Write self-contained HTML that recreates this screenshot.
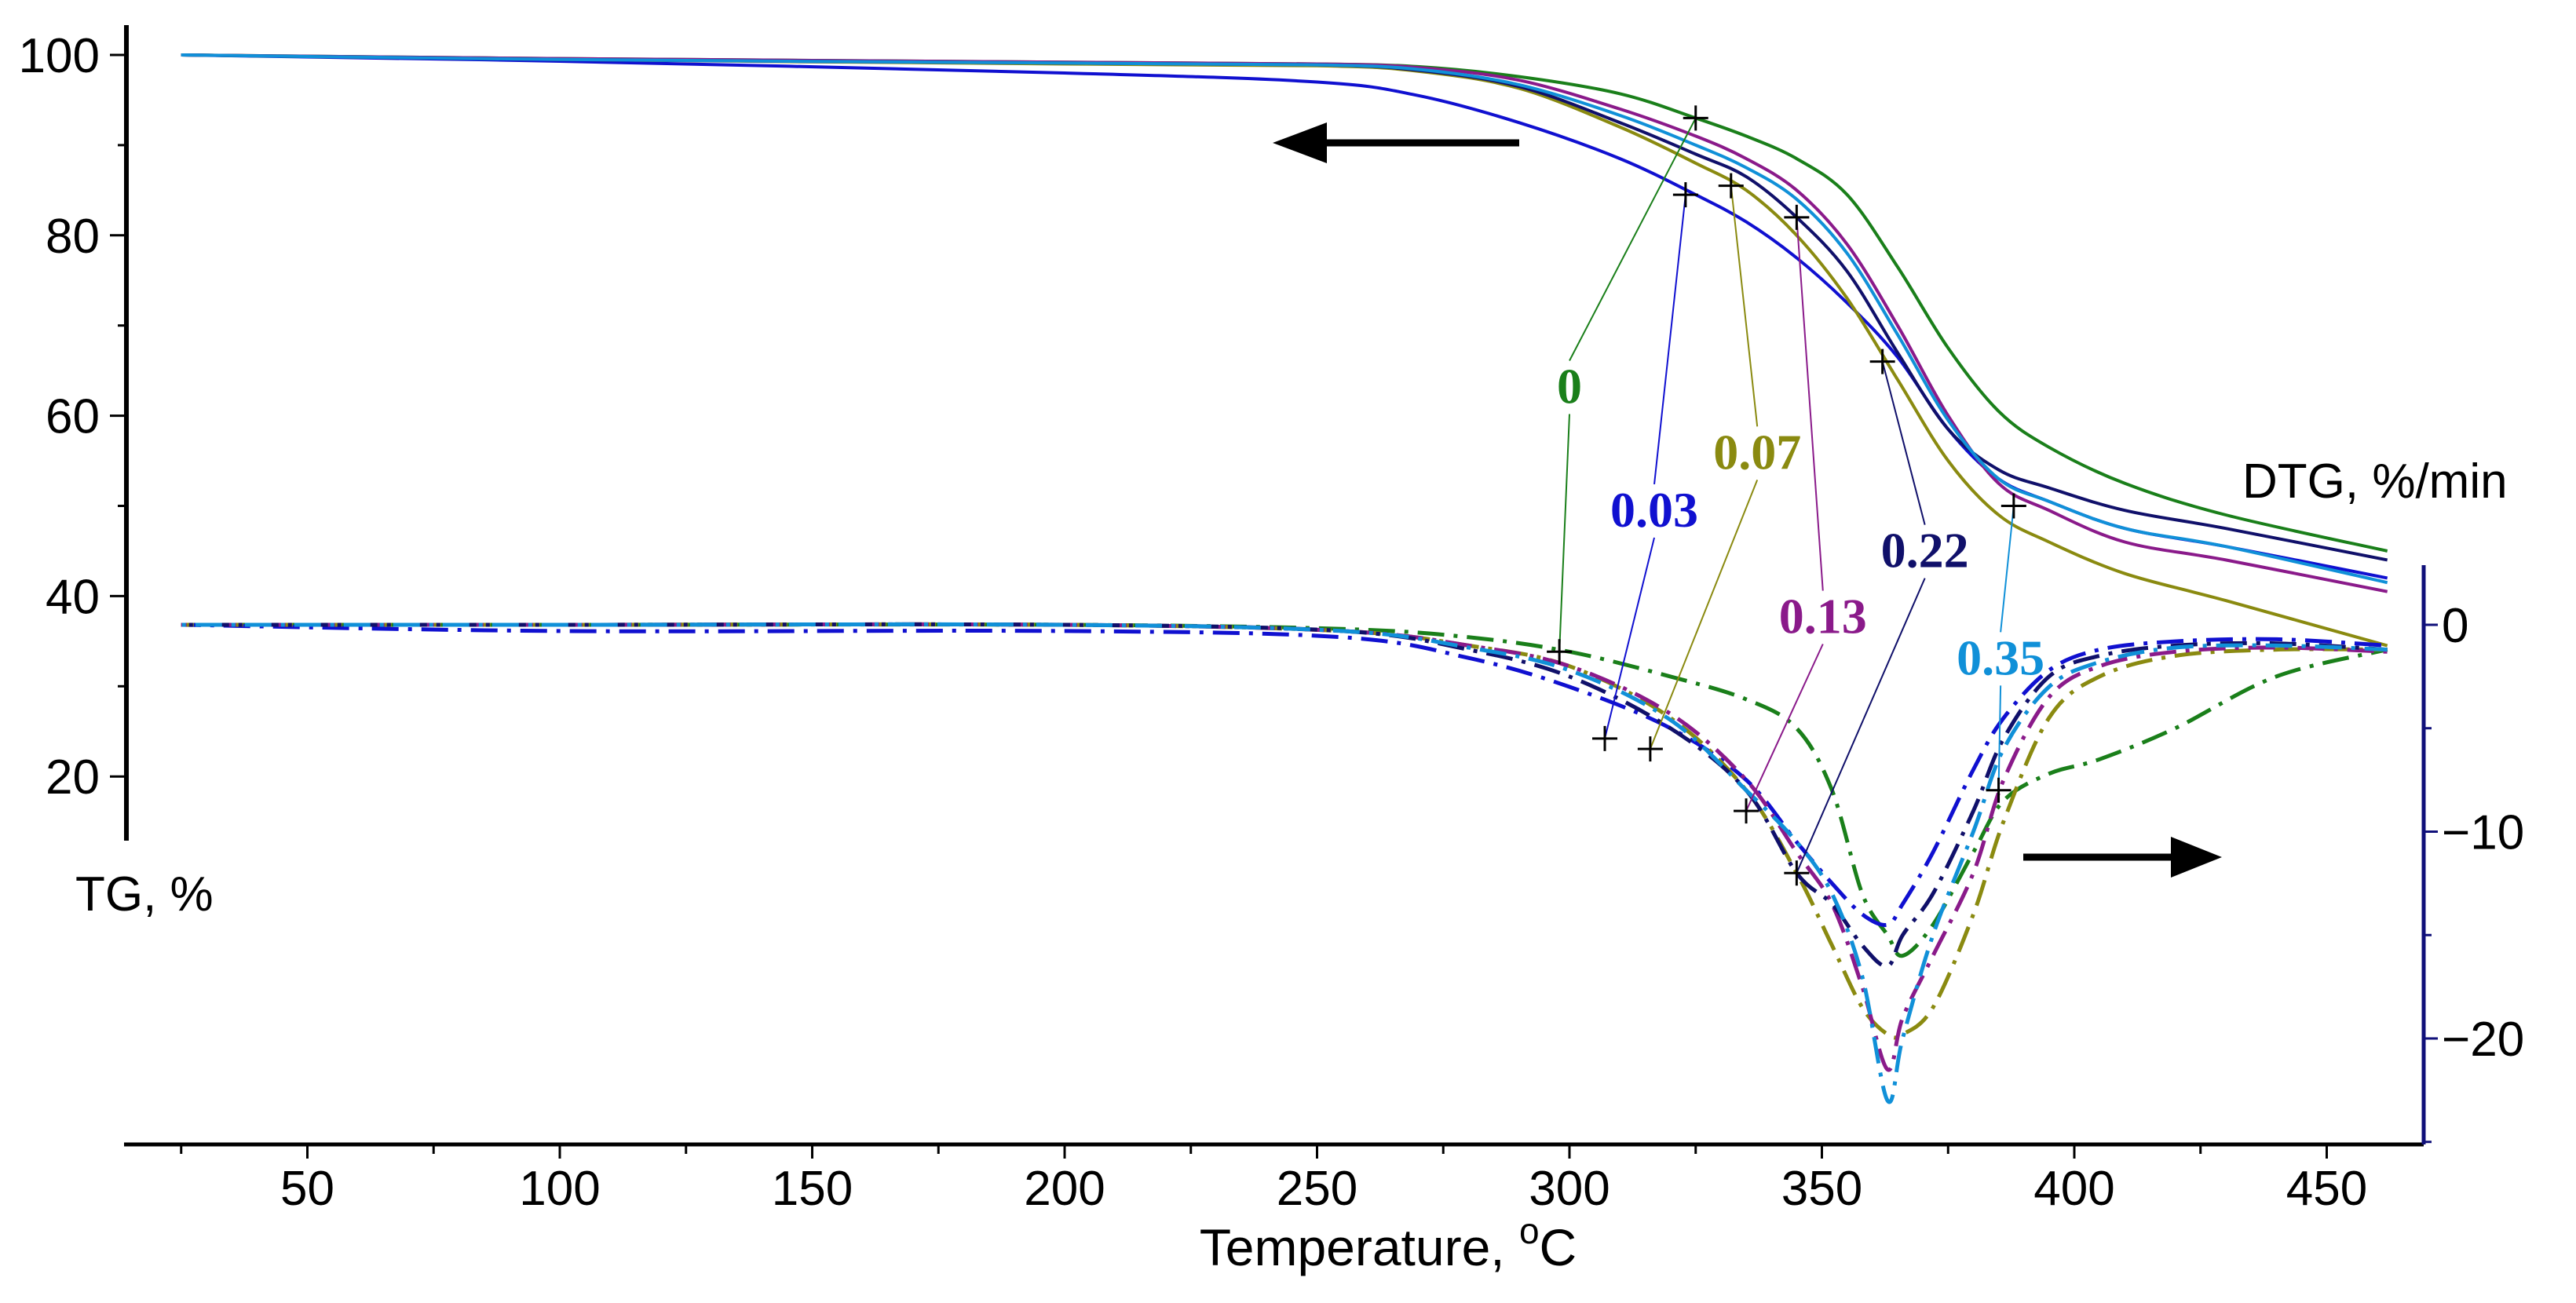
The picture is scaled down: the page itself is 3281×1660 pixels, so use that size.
<!DOCTYPE html>
<html><head><meta charset="utf-8"><style>
html,body{margin:0;padding:0;background:#fff;}
svg{display:block;}
text{font-family:"Liberation Sans",sans-serif;}
.lbl{font-family:"Liberation Serif",serif;font-weight:bold;font-size:64px;}
</style></head><body>
<svg id="chart" width="3281" height="1660" viewBox="0 0 3281 1660" xmlns="http://www.w3.org/2000/svg">
<g id="axes"></g>
<g id="tg"></g>
<g id="dtg"></g>
<g id="ann"></g>
</svg>
<script>
const sampleNames = ["0","0.03","0.07","0.13","0.22","0.35"];
const sampleColors = ["#1a7f1a","#1010d0","#8a8a10","#8a1a8a","#10106a","#1090d8"];
const tgTemps = [25,100,200,250,270,290,310,325,335,345,355,365,375,385,395,410,430,462];
const tg0 = [100,99.6,99.2,99,98.7,97.6,95.7,93,91,88.5,84.5,76.5,67.5,60.5,56.5,52.5,49,45];
const tg003 = [100,99.3,98,97,95.5,92.5,88.5,84.5,81.5,77.5,72.5,66.5,58.5,53,50.5,47.5,45.5,42];
const tg007 = [100,99.5,99,98.8,98.2,96.3,92,88,85,80,73,64,55,49,46,42.5,39.5,34.5];
const tg013 = [100,99.6,99.2,99,98.6,97.2,94,91,88.5,85,79,70,60,52.5,49.5,46,44,40.5];
const tg022 = [100,99.5,99.1,98.9,98.3,96.5,92.5,89,86.5,82,76,67,58.5,54,52,49.5,47.5,44];
const tg035 = [100,99.5,99.1,98.9,98.4,96.7,93.3,90,87.5,84,78,69,59.5,53,50.5,47.5,45.5,41.5];
const tgSeries = [tg0,tg003,tg007,tg013,tg022,tg035];
const dtgTemps = [25,100,200,255,280,300,320,335,345,352,358,363,366,372,380,386,395,405,420,440,462];
const dtg0 = [0,0,0,-0.2,-0.6,-1.3,-2.5,-3.6,-5,-8,-13,-15,-16,-14.5,-11,-8.5,-7.2,-6.5,-5,-2.5,-1.2];
const dtg003 = [0,-0.3,-0.3,-0.6,-1.6,-3,-5,-7.5,-10.5,-12.5,-14,-14.5,-13.5,-11,-7,-4.5,-2.2,-1.2,-0.8,-0.7,-1];
const dtg007 = [0,0,0,-0.3,-1,-2,-4.5,-8,-12,-15.5,-18.5,-19.8,-19.8,-18.5,-14,-9.5,-4.5,-2.5,-1.5,-1.2,-1.2];
const dtg013 = [0,0,0,-0.3,-1,-2,-4.3,-7.5,-11,-13.5,-17.5,-21.5,-19,-16,-12,-7.5,-3.5,-2,-1.3,-1.1,-1.3];
const dtg022 = [0,0,0,-0.3,-1.2,-2.5,-5,-8,-12,-13.5,-15.5,-16.5,-15,-13,-9,-5.5,-2.5,-1.5,-1,-0.9,-1.2];
const dtg035 = [0,0,0,-0.3,-1.1,-2.2,-4.6,-8,-10.5,-13,-17,-23,-20,-15,-10,-6,-3,-1.8,-1.1,-1,-1.2];
const dtgSeries = [dtg0,dtg003,dtg007,dtg013,dtg022,dtg035];
const xTicks = [50,100,150,200,250,300,350,400,450];
const tgTicks = [20,40,60,80,100];
const dtgTicks = [0,-10,-20];
const tgMarkT = [325,323,332,345,362,388];
const tgMarkV = [93,84.5,85.5,82,66,50];
const dtgMarkT = [298,307,316,335,345,385];
const dtgMarkV = [-1.3,-5.5,-6,-9,-12,-8];
const labelT = [300,316.8,337.2,350.2,370.4,385.4];
const labelTG = [61.4,47.7,54.1,35.9,43.2,31.3];

const X = t => 1999 + (t-300)*6.43;
const YL = v => 70 + (100-v)*11.49;
const YR = v => 796 - v*26.35;
const NS = "http://www.w3.org/2000/svg";
function mk(parent, tag, attrs){const e=document.createElementNS(NS,tag);for(const k in attrs)e.setAttribute(k,attrs[k]);parent.appendChild(e);return e;}
function smoothPath(pts){let d="M"+pts[0][0].toFixed(1)+","+pts[0][1].toFixed(1);
 for(let i=0;i<pts.length-1;i++){const p0=pts[Math.max(0,i-1)],p1=pts[i],p2=pts[i+1],p3=pts[Math.min(pts.length-1,i+2)];
 const c1=[p1[0]+(p2[0]-p0[0])/6,p1[1]+(p2[1]-p0[1])/6],c2=[p2[0]-(p3[0]-p1[0])/6,p2[1]-(p3[1]-p1[1])/6];
 d+=" C"+c1.map(v=>v.toFixed(1))+" "+c2.map(v=>v.toFixed(1))+" "+p2[0].toFixed(1)+","+p2[1].toFixed(1);}return d;}

const axes=document.getElementById('axes');
let e;
e=mk(axes,'line',{x1:161,y1:32,x2:161,y2:1071,stroke:'#000','stroke-width':6});

e=mk(axes,'line',{x1:158,y1:1458,x2:3087,y2:1458,stroke:'#000','stroke-width':5});

e=mk(axes,'line',{x1:3087,y1:720,x2:3087,y2:1458,stroke:'#10107a','stroke-width':5});

for(let t=25;t<=450;t+=25){
 e=mk(axes,'line',{x1:X(t),y1:1458,x2:X(t),y2:t%50?1470:1476,stroke:'#000','stroke-width':3});
 }
xTicks.forEach(t=>{e=mk(axes,'text',{x:X(t),y:1535,'font-size':62,'text-anchor':'middle',fill:'#000'});e.textContent=t;
 });
for(let v=20;v<=100;v+=10){e=mk(axes,'line',{x1:v%20?150:140,y1:YL(v),x2:161,y2:YL(v),stroke:'#000','stroke-width':3});
 }
tgTicks.forEach(v=>{e=mk(axes,'text',{x:127,y:YL(v)+22,'font-size':62,'text-anchor':'end',fill:'#000'});e.textContent=v;
 });
for(let v=-25;v<=0;v+=5){e=mk(axes,'line',{x1:3087,y1:YR(v),x2:v%10?3097:3105,y2:YR(v),stroke:'#10107a','stroke-width':3});
 }
dtgTicks.forEach(v=>{e=mk(axes,'text',{x:3110,y:YR(v)+22,'font-size':62,fill:'#000'});e.textContent=v===0?"0":"\u2212"+Math.abs(v);
 });
e=mk(axes,'text',{x:96,y:1160,'font-size':62,fill:'#000'});e.textContent="TG, %";

e=mk(axes,'text',{x:2856,y:634,'font-size':62,fill:'#000'});e.textContent="DTG, %/min";

e=mk(axes,'text',{x:1768,y:1612,'font-size':66,'text-anchor':'middle',fill:'#000'});
e.innerHTML='Temperature, <tspan dy="-28" font-size="46">o</tspan><tspan dy="28">C</tspan>';


const tgG=document.getElementById('tg'), dtgG=document.getElementById('dtg'), ann=document.getElementById('ann');
tgSeries.forEach((s,i)=>{e=mk(tgG,'path',{d:smoothPath(tgTemps.map((t,j)=>[X(t),YL(s[j])])),fill:'none',stroke:sampleColors[i],'stroke-width':4});
 });
dtgSeries.forEach((s,i)=>{e=mk(dtgG,'path',{d:smoothPath(dtgTemps.map((t,j)=>[X(t),YR(s[j])])),fill:'none',stroke:sampleColors[i],'stroke-width':5,'stroke-dasharray':'34,12,5,12','stroke-dashoffset':i*9});
 });
sampleNames.forEach((n,i)=>{
 const lx=X(labelT[i]), ly=YL(labelTG[i]);
 e=mk(ann,'line',{x1:lx,y1:ly-54,x2:X(tgMarkT[i]),y2:YL(tgMarkV[i]),stroke:sampleColors[i],'stroke-width':2});
 
 e=mk(ann,'line',{x1:lx,y1:ly+14,x2:X(dtgMarkT[i]),y2:YR(dtgMarkV[i]),stroke:sampleColors[i],'stroke-width':2});
 
 e=mk(ann,'text',{x:lx,y:ly,'text-anchor':'middle',fill:sampleColors[i],class:'lbl'});e.textContent=n;
 
 [[X(tgMarkT[i]),YL(tgMarkV[i])],[X(dtgMarkT[i]),YR(dtgMarkV[i])]].forEach(p=>{
  e=mk(ann,'path',{d:`M${p[0]-16},${p[1]}h32M${p[0]},${p[1]-16}v32`,stroke:'#000','stroke-width':3});
  });
});
e=mk(ann,'path',{d:'M1935,182 H1685',stroke:'#000','stroke-width':9});

e=mk(ann,'path',{d:'M1621,182 L1690,156 L1690,208 Z',fill:'#000'});

e=mk(ann,'path',{d:'M2577,1092 H2770',stroke:'#000','stroke-width':9});

e=mk(ann,'path',{d:'M2830,1092 L2765,1066 L2765,1118 Z',fill:'#000'});

</script>
</body></html>
